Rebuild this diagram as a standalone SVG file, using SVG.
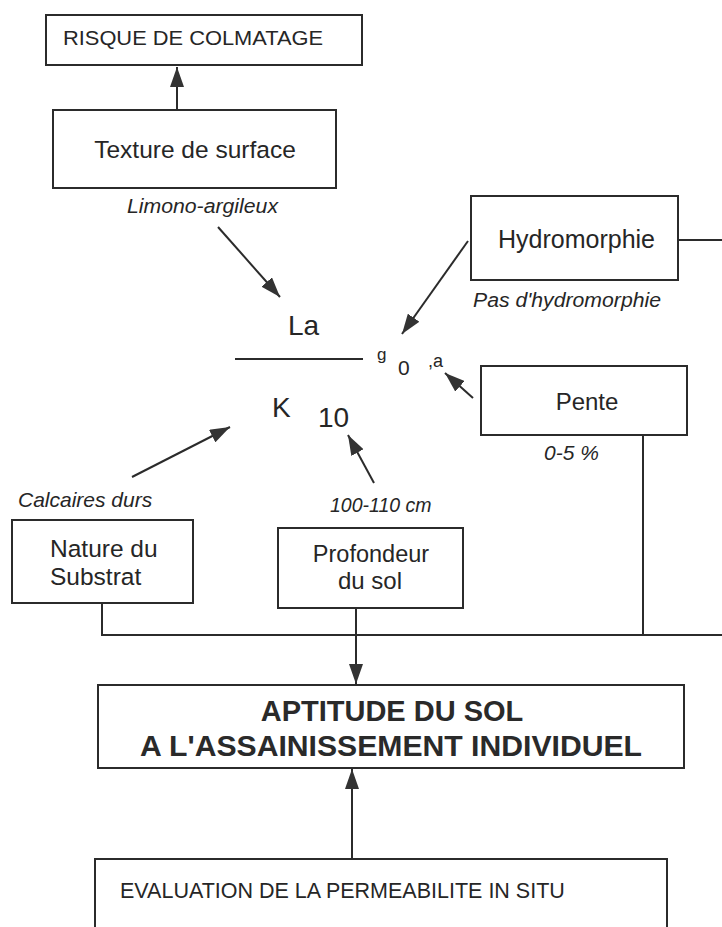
<svg xmlns="http://www.w3.org/2000/svg" width="722" height="927" viewBox="0 0 722 927">
<style>
  .box { fill: none; stroke: #2b2b2b; stroke-width: 2; }
  .ln { fill: none; stroke: #2b2b2b; stroke-width: 2; }
  .t { font-family: "Liberation Sans", Arial, sans-serif; fill: #262626; }
  .i { font-family: "Liberation Sans", Arial, sans-serif; font-style: italic; fill: #262626; }
  .b { font-family: "Liberation Sans", Arial, sans-serif; font-weight: bold; fill: #2a2a2a; }
</style>
<defs>
  <marker id="ah" viewBox="0 0 20 14" refX="20" refY="7" markerWidth="20" markerHeight="14" markerUnits="userSpaceOnUse" orient="auto">
    <path d="M0,0 L20,7 L0,14 z" fill="#333"/>
  </marker>
</defs>
<rect width="722" height="927" fill="#ffffff"/>

<g id="risque">
  <rect class="box" x="46" y="15" width="316" height="50"/>
  <text class="t" x="63" y="45" font-size="21" textLength="260" lengthAdjust="spacingAndGlyphs">RISQUE DE COLMATAGE</text>
</g>

<g id="texture">
  <rect class="box" x="53" y="110" width="283" height="78"/>
  <text class="t" x="195" y="158" font-size="24.5" text-anchor="middle">Texture de surface</text>
  <text class="i" x="127" y="213" font-size="20" textLength="151" lengthAdjust="spacingAndGlyphs">Limono-argileux</text>
</g>

<g id="hydromorphie">
  <rect class="box" x="471" y="196" width="207" height="84"/>
  <text class="t" x="576.5" y="248" font-size="25" text-anchor="middle">Hydromorphie</text>
  <text class="i" x="473" y="307" font-size="20" textLength="188" lengthAdjust="spacingAndGlyphs">Pas d'hydromorphie</text>
</g>

<g id="pente">
  <rect class="box" x="481" y="366" width="206" height="69"/>
  <text class="t" x="587" y="410" font-size="24" text-anchor="middle">Pente</text>
  <text class="i" x="544" y="460" font-size="21">0-5 %</text>
</g>

<g id="formule">
  <text class="t" x="288" y="335" font-size="28">La</text>
  <line class="ln" x1="235" y1="359" x2="363" y2="359"/>
  <text class="t" x="377" y="360" font-size="17">g</text>
  <text class="t" x="398" y="375" font-size="21">0</text>
  <text class="t" x="428" y="367" font-size="18">,a</text>
  <text class="t" x="272" y="417" font-size="28">K</text>
  <text class="t" x="318" y="427" font-size="28">10</text>
</g>

<g id="substrat">
  <text class="i" x="18" y="507" font-size="21">Calcaires durs</text>
  <rect class="box" x="12" y="520" width="181" height="83"/>
  <text class="t" x="50" y="557" font-size="24.5">Nature du</text>
  <text class="t" x="50" y="585" font-size="24.5">Substrat</text>
</g>

<g id="profondeur">
  <text class="i" x="330" y="512" font-size="19.5">100-110 cm</text>
  <rect class="box" x="278" y="528" width="185" height="80"/>
  <text class="t" x="371" y="562" font-size="23.5" text-anchor="middle">Profondeur</text>
  <text class="t" x="370" y="589" font-size="24" text-anchor="middle">du sol</text>
</g>

<g id="aptitude">
  <rect class="box" x="98" y="685" width="586" height="83"/>
  <text class="b" x="392" y="721" font-size="29" text-anchor="middle">APTITUDE DU SOL</text>
  <text class="b" x="391" y="756" font-size="29" text-anchor="middle" textLength="502" lengthAdjust="spacingAndGlyphs">A L'ASSAINISSEMENT INDIVIDUEL</text>
</g>

<g id="evaluation">
  <rect class="box" x="95" y="859" width="572" height="90"/>
  <text class="t" x="120" y="898" font-size="21.5">EVALUATION DE LA PERMEABILITE IN SITU</text>
</g>

<g id="connectors">
  <line class="ln" x1="177" y1="110" x2="177" y2="67" marker-end="url(#ah)"/>
  <line class="ln" x1="218" y1="227" x2="280" y2="297" marker-end="url(#ah)"/>
  <line class="ln" x1="468" y1="241" x2="402" y2="334" marker-end="url(#ah)"/>
  <line class="ln" x1="473" y1="398" x2="445" y2="373" marker-end="url(#ah)"/>
  <line class="ln" x1="132" y1="477" x2="230" y2="427" marker-end="url(#ah)"/>
  <line class="ln" x1="374" y1="483" x2="348" y2="435" marker-end="url(#ah)"/>
  <line class="ln" x1="678" y1="240" x2="722" y2="240"/>
  <polyline class="ln" points="102,603 102,635 722,635"/>
  <line class="ln" x1="643" y1="435" x2="643" y2="635"/>
  <line class="ln" x1="356" y1="608" x2="356" y2="684" marker-end="url(#ah)"/>
  <line class="ln" x1="352" y1="859" x2="352" y2="769" marker-end="url(#ah)"/>
</g>
</svg>
